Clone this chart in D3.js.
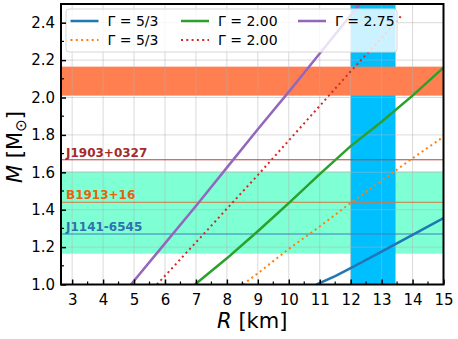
<!DOCTYPE html>
<html>
<head>
<meta charset="utf-8">
<script src="https://cdn.jsdelivr.net/npm/d3@7"></script>
<style>
  body { margin: 0; background: #fff; }
  svg { display: block; font-family: "DejaVu Sans", sans-serif; }
</style>
</head>
<body>
<svg id="canvas"></svg>
<script>
// curves: [R km, M sun]
var polySoft = [[10.9, 1.0], [11.5, 1.045], [12, 1.088], [13, 1.176], [14, 1.265], [15, 1.355]];
var polyMid = [[6.97, 1.0], [8, 1.14], [9, 1.285], [10, 1.435], [11, 1.59], [12, 1.74], [13, 1.87], [14, 2.01], [15, 2.16]];
var polyStiff = [[4.9, 1.0], [6, 1.22], [7, 1.42], [8, 1.625], [9, 1.83], [10, 2.03], [11, 2.235], [12, 2.44], [12.5, 2.54]];
var dotSoft = [[8.52, 1.0], [9, 1.06], [10, 1.19], [11, 1.31], [12, 1.436], [13, 1.555], [14, 1.675], [15, 1.79]];
var dotMid = [[5.74, 1.0], [7, 1.225], [8, 1.405], [9, 1.585], [10, 1.77], [11, 1.955], [12, 2.14], [13, 2.32], [13.65, 2.44]];

var bandMassHigh = [2.01, 2.165];
var bandMassDns = [1.165, 1.605];
var bandRadius = [12.0, 13.45];

var pulsarNames = ["J1903+0327", "B1913+16", "J1141-6545"];
var pulsarMasses = [1.667, 1.4398, 1.27];
var pulsarColors = ["#a52a2a", "#e8620c", "#2f72b0"];
var pulsarLineColors = ["#b5423a", "#d9743f", "#3f7fb5"];

var xTicks = [3, 4, 5, 6, 7, 8, 9, 10, 11, 12, 13, 14, 15];
var yTicks = [1.0, 1.2, 1.4, 1.6, 1.8, 2.0, 2.2, 2.4];

var series = [
  { label: "Γ = 5/3", data: polySoft, color: "#1f77b4", dotted: false },
  { label: "Γ = 5/3", data: dotSoft, color: "#ff7f0e", dotted: true },
  { label: "Γ = 2.00", data: polyMid, color: "#2ca02c", dotted: false },
  { label: "Γ = 2.00", data: dotMid, color: "#d62728", dotted: true },
  { label: "Γ = 2.75", data: polyStiff, color: "#9467bd", dotted: false }
];

drawChart();

function drawChart() {
  var W = 458, H = 339;
  var pL = 61, pR = 443.5, pT = 4, pB = 284.5;

  var svg = d3.select("#canvas").attr("width", W).attr("height", H);

  var x = d3.scaleLinear().domain([2.64, 15]).range([pL, pR]);
  var y = d3.scaleLinear().domain([1.0, 2.5]).range([pB, pT]);

  svg.append("clipPath").attr("id", "clip")
    .append("rect").attr("x", pL).attr("y", pT)
    .attr("width", pR - pL).attr("height", pB - pT);

  var plot = svg.append("g").attr("clip-path", "url(#clip)");

  // bands
  plot.append("rect")
    .attr("x", pL).attr("width", pR - pL)
    .attr("y", y(bandMassDns[1])).attr("height", y(bandMassDns[0]) - y(bandMassDns[1]))
    .attr("fill", "#7fffd4");
  plot.append("rect")
    .attr("x", x(bandRadius[0])).attr("width", x(bandRadius[1]) - x(bandRadius[0]))
    .attr("y", pT).attr("height", pB - pT)
    .attr("fill", "#00bfff");
  plot.append("rect")
    .attr("x", pL).attr("width", pR - pL)
    .attr("y", y(bandMassHigh[1])).attr("height", y(bandMassHigh[0]) - y(bandMassHigh[1]))
    .attr("fill", "#ff7f50");

  // grid
  plot.selectAll(".gx").data(xTicks).enter().append("line")
    .attr("x1", d => x(d)).attr("x2", d => x(d))
    .attr("y1", pT).attr("y2", pB)
    .style("stroke", "#b0b0b0").style("stroke-opacity", 0.6).style("stroke-width", 0.8);
  plot.selectAll(".gy").data(yTicks).enter().append("line")
    .attr("y1", d => y(d)).attr("y2", d => y(d))
    .attr("x1", pL).attr("x2", pR)
    .style("stroke", "#b0b0b0").style("stroke-opacity", 0.6).style("stroke-width", 0.8);

  // pulsar lines
  pulsarMasses.forEach(function (m, i) {
    plot.append("line")
      .attr("x1", pL).attr("x2", pR)
      .attr("y1", y(m)).attr("y2", y(m))
      .style("stroke", pulsarLineColors[i]).style("stroke-width", 1);
    svg.append("text")
      .attr("x", pL + 5).attr("y", y(m) - 3)
      .attr("fill", pulsarColors[i])
      .style("font-size", "12px").style("font-weight", "bold")
      .text(pulsarNames[i]);
  });

  // curves
  var line = d3.line().x(d => x(d[0])).y(d => y(d[1]));
  series.forEach(function (s) {
    plot.append("path")
      .attr("d", line(s.data))
      .attr("fill", "none")
      .style("stroke", s.color)
      .style("stroke-width", s.dotted ? 2 : 2.5)
      .style("stroke-dasharray", s.dotted ? "2,3.3" : null);
  });

  // legend
  var lg = svg.append("g");
  lg.append("rect")
    .attr("x", 66).attr("y", 9).attr("width", 331).attr("height", 43)
    .attr("rx", 3)
    .attr("fill", "#fff").attr("fill-opacity", 0.8)
    .attr("stroke", "#d6d6d6").attr("stroke-width", 1);
  var colX = [70.5, 181, 298];
  series.forEach(function (s, i) {
    var cx = colX[Math.floor(i / 2)];
    var cy = i % 2 === 0 ? 21 : 40;
    lg.append("line")
      .attr("x1", cx).attr("x2", cx + 28)
      .attr("y1", cy).attr("y2", cy)
      .style("stroke", s.color)
      .style("stroke-width", s.dotted ? 2 : 2.5)
      .style("stroke-dasharray", s.dotted ? "2,3.3" : null);
    lg.append("text")
      .attr("x", cx + 37).attr("y", cy + 5)
      .style("font-size", "14px").attr("fill", "#000")
      .text(s.label);
  });

  // axes
  var xAxis = d3.axisBottom(x).tickValues(xTicks).tickSize(-5).tickPadding(10).tickFormat(d3.format("d"));
  var yAxis = d3.axisLeft(y).tickValues(yTicks).tickSize(-5).tickPadding(6).tickFormat(d3.format(".1f"));

  var gx = svg.append("g").attr("transform", "translate(0," + pB + ")").call(xAxis);
  var gy = svg.append("g").attr("transform", "translate(" + pL + ",0)").call(yAxis);
  [gx, gy].forEach(function (g) {
    g.select(".domain").remove();
    g.selectAll(".tick line").style("stroke", "#000").style("stroke-width", 1.5);
    g.selectAll("text").style("font-size", "15px").style("font-family", "DejaVu Sans").attr("fill", "#000");
  });

  // minor ticks
  var xMinor = d3.range(3.5, 15, 1);
  var yMinor = d3.range(1.1, 2.5, 0.2);
  svg.selectAll(".mx").data(xMinor).enter().append("line")
    .attr("x1", d => x(d)).attr("x2", d => x(d))
    .attr("y1", pB).attr("y2", pB - 3)
    .style("stroke", "#000").style("stroke-width", 1.2);
  svg.selectAll(".my").data(yMinor).enter().append("line")
    .attr("y1", d => y(d)).attr("y2", d => y(d))
    .attr("x1", pL).attr("x2", pL + 3)
    .style("stroke", "#000").style("stroke-width", 1.2);

  // frame
  svg.append("rect")
    .attr("x", pL).attr("y", pT)
    .attr("width", pR - pL).attr("height", pB - pT)
    .attr("fill", "none").attr("stroke", "#000").attr("stroke-width", 2);

  // axis labels
  var xl = svg.append("text")
    .attr("x", (pL + pR) / 2).attr("y", 328)
    .attr("text-anchor", "middle").style("font-size", "21px");
  xl.append("tspan").style("font-style", "italic").text("R");
  xl.append("tspan").text(" [km]");

  var yl = svg.append("text")
    .attr("transform", "translate(22,147) rotate(-90)")
    .attr("text-anchor", "middle").style("font-size", "21px");
  yl.append("tspan").style("font-style", "italic").text("M");
  yl.append("tspan").text(" [M");
  yl.append("tspan").attr("dy", 4).style("font-size", "15px").text("⊙");
  yl.append("tspan").attr("dy", -4).text("]");
}
</script>
</body>
</html>
